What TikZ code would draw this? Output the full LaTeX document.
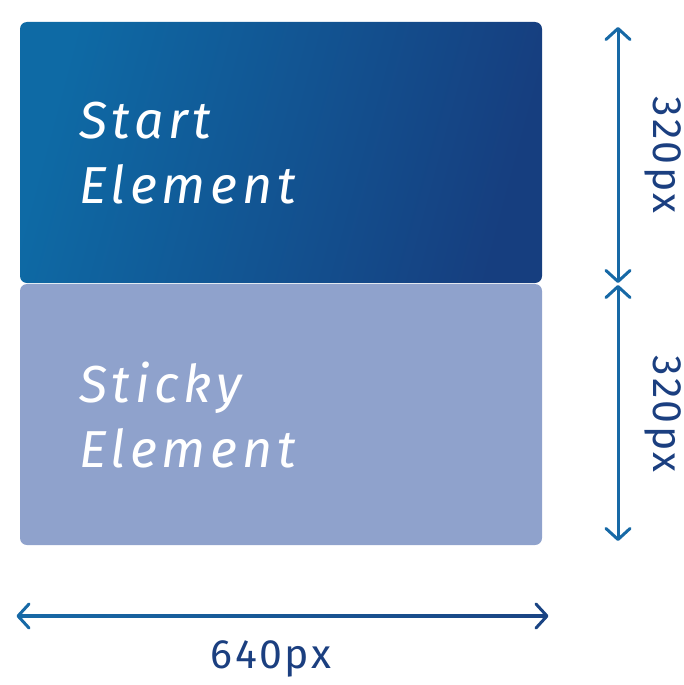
\documentclass[tikz,border=0pt]{standalone}
\usepackage{fontspec}
\usetikzlibrary{arrows.meta}
\newfontfamily\boxfont[LetterSpace=9]{Fira Sans Italic}
\newfontfamily\dimfont[LetterSpace=6]{Fira Sans}
\definecolor{topA}{HTML}{0E6AA5}
\definecolor{topB}{HTML}{163E7F}
\definecolor{stickyc}{HTML}{8FA2CC}
\definecolor{arrowc}{HTML}{1769A6}
\definecolor{arrowd}{HTML}{1A4483}
\definecolor{labelc}{HTML}{1B3F80}
\tikzset{
  boxshape/.style={rounded corners=7pt},
  boxtext/.style={text=white, font=\boxfont\fontsize{52}{65}\selectfont, align=left, anchor=west, inner sep=0pt},
  dimline/.style={line width=3pt, line cap=round, {Straight Barb[length=11pt,width=24pt,line cap=round,line join=round]}-{Straight Barb[length=11pt,width=24pt,line cap=round,line join=round]}},
  dimlabel/.style={text=labelc, font=\dimfont\fontsize{41}{48}\selectfont, inner sep=0pt}
}
\begin{document}
\begin{tikzpicture}[x=1pt,y=-1pt]
\useasboundingbox (0,0) rectangle (683,685);
% boxes
\shade[boxshape, left color=topA, right color=topB, shading angle=75] (20,22) rectangle (542,283);
\fill[boxshape, stickyc] (20,284) rectangle (542,545);
\node[boxtext] (starttext) at (79,153) {Start\\Element};
\node[boxtext] (stickytext) at (79,415) {Sticky\\Element};
% vertical dimensions
\coordinate (v1) at (618,27);
\coordinate (v2) at (618,283);
\coordinate (v3) at (618,285);
\coordinate (v4) at (618,541);
\draw[dimline, arrowc] (v1) -- (v2);
\draw[dimline, arrowc] (v3) -- (v4);
\node[dimlabel, rotate=-90] (h1) at (663,155) {320px};
\node[dimlabel, rotate=-90] (h2) at (663,414) {320px};
% horizontal dimension
\coordinate (hl) at (18,616);
\coordinate (hr) at (547,616);
\shade[left color=arrowc, right color=arrowd] (19,614.5) rectangle (546,617.5);
\draw[line width=3pt, line cap=round, line join=round, arrowc] (29,604) -- (hl) -- (29,628);
\draw[line width=3pt, line cap=round, line join=round, arrowd] (536,604) -- (hr) -- (536,628);
\node[dimlabel] (w) at (271,659) {640px};
\end{tikzpicture}
\end{document}
